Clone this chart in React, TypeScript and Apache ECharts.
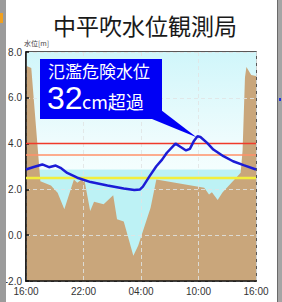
import React, { useEffect, useRef } from "react";
import * as echarts from "echarts";

const title = "中平吹水位観測局";
const yName = "水位[m]";
const xTickLabels = ["16:00", "22:00", "04:00", "10:00", "16:00"];

// hours since 16:00
const levelHours = [0, 0.8, 1.7, 2.4, 3.1, 3.6, 4.3, 5.35, 6.75, 8.5, 10.2, 11.3, 11.9, 12.2, 12.9, 13.6, 14.2, 14.7, 15.6, 16.1, 16.7, 17.1, 17.5, 17.9, 18.2, 18.9, 19.55, 20.6, 21.6, 22.7, 24];
const levelValues = [2.87, 2.98, 3.09, 2.97, 3.04, 2.94, 2.72, 2.51, 2.32, 2.17, 2.04, 1.97, 2.0, 2.12, 2.58, 3.01, 3.3, 3.6, 4.0, 3.86, 3.7, 3.77, 4.1, 4.32, 4.29, 4.03, 3.74, 3.45, 3.23, 3.06, 2.87];

const groundHours = [0, 0.55, 1.5, 2.6, 3.3, 4.0, 5.0, 5.35, 6.05, 6.7, 7.1, 8.1, 9.1, 9.5, 10.2, 11.2, 11.7, 12.3, 13.0, 13.6, 18.6, 19.1, 19.4, 20.0, 20.5, 21.9, 22.4, 22.6, 22.85, 23.0, 23.5, 24];
const groundValues = [7.4, 7.3, 2.36, 2.17, 1.85, 1.13, 2.43, 2.29, 2.51, 1.06, 1.46, 1.35, 1.74, 0.7, 0.6, -0.9, -0.46, 0.3, 1.2, 2.43, 2.07, 1.78, 1.88, 1.54, 1.86, 2.5, 2.73, 3.7, 6.9, 7.35, 7.0, 6.95];

const dangerLevel = 4.0; // 氾濫危険水位
const warningLevel = 3.5;
const cautionLevel = 2.5;
const bandLevel = 2.87;

const calloutLine1 = "氾濫危険水位";
const calloutNumber = "32";
const calloutUnit = "cm超過";

export default function App() {
  const ref = useRef<HTMLDivElement>(null);
  useEffect(() => {
    if (!ref.current) return;
    const chart = echarts.init(ref.current, undefined, { renderer: "svg" });
    const zip = (a: number[], b: number[]) => a.map((h, i) => [h, b[i]]);
    const hline = (v: number) => [[0, v], [24, v]];
    const labelFont = "'Liberation Sans Narrow', 'Liberation Sans', sans-serif";
    const jp = "'Noto Sans CJK JP', sans-serif";
    chart.setOption({
      animation: false,
      backgroundColor: "#ffffff",
      grid: { left: 26, right: 26, top: 52, bottom: 21, show: true, borderColor: "#222", borderWidth: 1.5, backgroundColor: "transparent" },
      xAxis: {
        type: "value", min: 0, max: 24, interval: 6, z: 3,
        axisLine: { show: true, onZero: false, lineStyle: { color: "#111", width: 1.5 } },
        axisTick: { show: false },
        splitLine: { show: true, lineStyle: { color: "rgba(225,228,228,0.85)", type: [4, 3], width: 1 } },
        axisLabel: { fontFamily: labelFont, fontSize: 10, color: "#333", margin: 5, formatter: (v: number) => xTickLabels[Math.round(v / 6)] },
      },
      yAxis: {
        type: "value", min: -2, max: 8, interval: 2, z: 3,
        name: yName, nameLocation: "end", nameGap: 6,
        nameTextStyle: { fontFamily: jp, fontSize: 7, color: "#444", align: "left", padding: [0, 0, 0, -2] },
        axisLine: { show: true, onZero: false, lineStyle: { color: "#111", width: 1.5 } },
        axisTick: { show: true, inside: true, length: 3, lineStyle: { color: "#111", width: 1.5 } },
        splitLine: { show: true, lineStyle: { color: "rgba(225,228,228,0.85)", type: [4, 3], width: 1 } },
        axisLabel: { fontFamily: labelFont, fontSize: 10, color: "#333", margin: 4, formatter: (v: number) => v.toFixed(1) },
      },
      series: [
        {
          type: "line", data: [], z: 1, silent: true,
          markArea: {
            silent: true,
            data: [
              [{ yAxis: bandLevel, itemStyle: { color: new echarts.graphic.LinearGradient(0, 0, 0, 1, [{ offset: 0, color: "#d0f6fa" }, { offset: 0.75, color: "#eefcfd" }, { offset: 1, color: "#f4fefe" }]) } }, { yAxis: 8 }],
              [{ yAxis: -2, itemStyle: { color: "#bdf2f5" } }, { yAxis: bandLevel }],
            ],
          },
        },
        {
          type: "line", data: zip(groundHours, groundValues), z: 2, symbol: "none",
          lineStyle: { width: 0 }, areaStyle: { color: "#c9a67b", opacity: 1, origin: "start" },
        },
        { type: "line", data: hline(dangerLevel), z: 4, symbol: "none", lineStyle: { color: "#f03a2a", width: 1.5 } },
        { type: "line", data: hline(warningLevel), z: 4, symbol: "none", lineStyle: { color: "#ff9068", width: 1.5 } },
        { type: "line", data: hline(cautionLevel), z: 4, symbol: "none", lineStyle: { color: "#f2ef3c", width: 2.5 } },
        { type: "line", data: zip(levelHours, levelValues), z: 5, symbol: "none", lineStyle: { color: "#1c1cd6", width: 2.5 } },
      ],
    });
    let peakIdx = 0;
    levelValues.forEach((v, i) => { if (v > levelValues[peakIdx]) peakIdx = i; });
    const tip = chart.convertToPixel({ gridIndex: 0 }, [levelHours[peakIdx], levelValues[peakIdx]]) as number[];
    chart.setOption({
      graphic: [
        { type: "rect", shape: { x: 0, y: 0, width: 6, height: 302 }, style: { fill: "#9b9b9b" }, z: 10 },
        { type: "rect", shape: { x: 0, y: 13, width: 3, height: 10 }, style: { fill: "#f0a020" }, z: 11 },
        { type: "rect", shape: { x: 277, y: 0, width: 5, height: 302 }, style: { fill: "#a5a5a5" }, z: 10 },
        { type: "rect", shape: { x: 277, y: 0, width: 1, height: 302 }, style: { fill: "#6a6a6a" }, z: 11 },
        { type: "rect", shape: { x: 279, y: 98, width: 2, height: 3 }, style: { fill: "#2030e0" }, z: 11 },
        { type: "text", x: 145, y: 25, style: { text: title, font: `23px ${jp}`, fill: "#1a1a1a", align: "center", verticalAlign: "middle" }, z: 10 },
        { type: "rect", shape: { x: 40, y: 59, width: 122, height: 60 }, style: { fill: "#0000f5" }, z: 20 },
        { type: "polygon", shape: { points: [[161, 110], [tip[0] - 1, tip[1] + 1], [152, 119]] }, style: { fill: "#0000f5" }, z: 20 },
        { type: "text", x: 48, y: 70, style: { text: calloutLine1, font: `17px ${jp}`, fill: "#ffffff", verticalAlign: "middle" }, z: 21 },
        { type: "text", x: 47, y: 98, style: { text: calloutNumber, font: `32px 'Liberation Sans', Arial, sans-serif`, fill: "#ffffff", verticalAlign: "middle" }, z: 21 },
        { type: "text", x: 82, y: 101, style: { text: calloutUnit, font: `18px ${jp}`, fill: "#ffffff", verticalAlign: "middle" }, z: 21 },
      ],
    });
    return () => chart.dispose();
  }, []);
  return <div ref={ref} style={{ position: "fixed", left: 0, top: 0, width: 282, height: 302 }} />;
}
